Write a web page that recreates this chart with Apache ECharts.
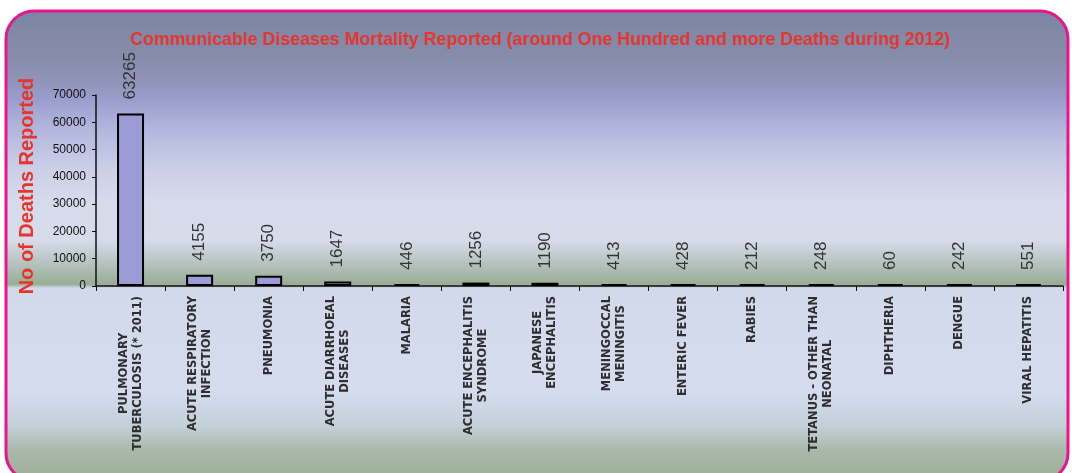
<!DOCTYPE html>
<html>
<head>
<meta charset="utf-8">
<script src="https://cdn.jsdelivr.net/npm/echarts@6/dist/echarts.min.js"></script>
<style>
html,body{margin:0;padding:0;background:#fff;}
#chart{width:1072px;height:473px;}
</style>
</head>
<body>
<div id="chart"></div>
<script>
var titleText = 'Communicable Diseases Mortality Reported (around One Hundred and more Deaths during 2012)';
var yAxisName = 'No of Deaths Reported';
var categories = [
  'PULMONARY\nTUBERCULOSIS (* 2011)',
  'ACUTE RESPIRATORY\nINFECTION',
  'PNEUMONIA',
  'ACUTE DIARRHOEAL\nDISEASES',
  'MALARIA',
  'ACUTE ENCEPHALITIS\nSYNDROME',
  'JAPANESE\nENCEPHALITIS',
  'MENINGOCCAL\nMENINGITIS',
  'ENTERIC FEVER',
  'RABIES',
  'TETANUS - OTHER THAN\nNEONATAL',
  'DIPHTHERIA',
  'DENGUE',
  'VIRAL HEPATITIS'
];
var deaths = [63265, 4155, 3750, 1647, 446, 1256, 1190, 413, 428, 212, 248, 60, 242, 551];
var yTicks = [0, 10000, 20000, 30000, 40000, 50000, 60000, 70000];

var chart = echarts.init(document.getElementById('chart'), null, {renderer: 'canvas'});

var option = {
  animation: false,
  backgroundColor: '#ffffff',
  graphic: [{
    type: 'rect',
    z: -10,
    silent: true,
    shape: {x: 6, y: 11, width: 1062, height: 470, r: 28},
    style: {
      fill: new echarts.graphic.LinearGradient(0, 0, 0, 1, [
        {offset: 0, color: '#7d84a4'},
        {offset: 0.104, color: '#878cab'},
        {offset: 0.157, color: '#9295ba'},
        {offset: 0.189, color: '#9a9dcc'},
        {offset: 0.253, color: '#b3b6dc'},
        {offset: 0.338, color: '#cbd0e8'},
        {offset: 0.413, color: '#d6dbec'},
        {offset: 0.487, color: '#d6dcea'},
        {offset: 0.53, color: '#bac6c6'},
        {offset: 0.581, color: '#98ad94'},
        {offset: 0.589, color: '#d2d9ea'},
        {offset: 0.806, color: '#d4dcee'},
        {offset: 0.881, color: '#c3d0d8'},
        {offset: 0.934, color: '#a8b9a8'},
        {offset: 1, color: '#9aae94'}
      ]),
      stroke: '#e8168a',
      lineWidth: 3
    }
  }],
  title: {
    text: titleText,
    left: 535,
    textAlign: 'center',
    top: 26,
    textStyle: {
      fontFamily: 'Liberation Sans, Arial, sans-serif',
      fontSize: 17.8,
      fontWeight: 'bold',
      color: '#e8352b'
    }
  },
  grid: {left: 96, right: 9, top: 95, bottom: 187, containLabel: false},
  xAxis: {
    type: 'category',
    data: categories,
    axisLine: {lineStyle: {color: '#111', width: 1.5}},
    axisTick: {show: true, length: 5, inside: false, lineStyle: {color: '#111'}},
    axisLabel: {
      interval: 0,
      rotate: 90,
      margin: 10,
      formatter: function (v) {
        return v.split('\n').map(function (s) { return '{c|' + s + '}'; }).join('\n');
      },
      rich: {
        c: {
          align: 'center',
          fontFamily: 'DejaVu Sans, Verdana, sans-serif',
          fontSize: 11.5,
          fontWeight: 'bold',
          color: '#2e2e2e',
          lineHeight: 14
        }
      }
    }
  },
  yAxis: {
    type: 'value',
    min: 0,
    max: 70000,
    interval: 10000,
    name: yAxisName,
    nameLocation: 'middle',
    nameGap: 59,
    nameTextStyle: {
      fontFamily: 'Liberation Sans, Arial, sans-serif',
      fontSize: 20,
      fontWeight: 'bold',
      color: '#e8352b',
      padding: [0, 0, 0, 9]
    },
    axisLine: {show: true, lineStyle: {color: '#111', width: 1.5}},
    axisTick: {show: true, length: 4, lineStyle: {color: '#111'}},
    splitLine: {show: false},
    axisLabel: {
      margin: 10,
      fontFamily: 'Liberation Sans, Arial, sans-serif',
      fontSize: 12,
      color: '#111',
      formatter: function (v) { return yTicks.indexOf(v) >= 0 ? String(v) : ''; }
    }
  },
  series: [{
    type: 'bar',
    data: deaths,
    barWidth: 27,
    barMinHeight: 2,
    itemStyle: {color: '#9b9bd6', borderColor: '#000', borderWidth: 2},
    label: {
      show: true,
      position: 'top',
      rotate: 90,
      align: 'left',
      verticalAlign: 'middle',
      distance: 14,
      fontFamily: 'Liberation Sans, Arial, sans-serif',
      fontSize: 17,
      color: '#333'
    }
  }]
};
chart.setOption(option);
</script>
</body>
</html>
